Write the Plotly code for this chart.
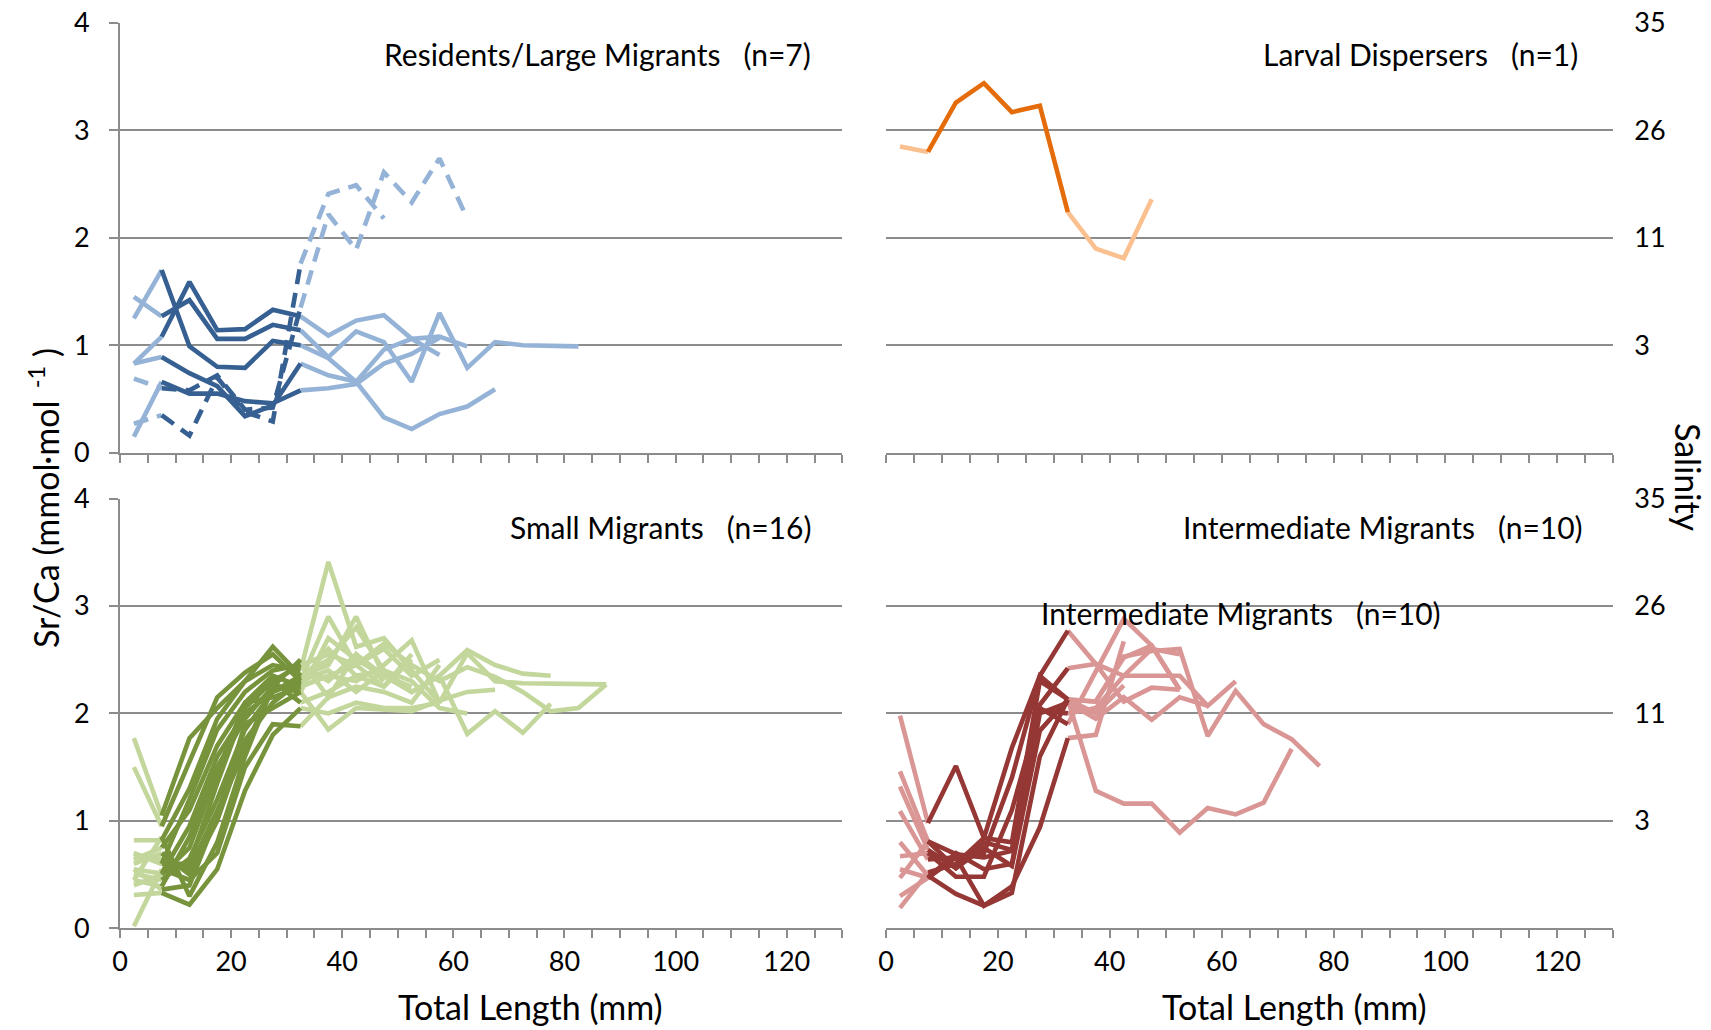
import plotly.graph_objects as go

# ---------------- data ----------------
LENGTH_MM = [2.5, 7.5, 12.5, 17.5, 22.5, 27.5, 32.5, 37.5, 42.5, 47.5,
             52.5, 57.5, 62.5, 67.5, 72.5, 77.5, 82.5, 87.5]

# Residents / Large Migrants (n=7): solid and dashed profiles
RES_SOLID = [
    [1.25, 1.70, 0.99, 0.80, 0.79, 1.04, 1.00, 0.88, 0.66, 0.33, 0.22, 0.36, 0.43, 0.59],
    [1.45, 1.27, 1.42, 1.06, 1.06, 1.19, 1.14, 0.89, 1.13, 1.03, 0.66, 1.30, 0.79, 1.03, 1.00, 0.99, 0.99],
    [0.83, 1.08, 1.59, 1.14, 1.15, 1.33, 1.27, 1.09, 1.23, 1.28, 1.06, 1.08, 0.99],
    [0.83, 0.89, 0.74, 0.62, 0.34, 0.44, 0.83, 0.72, 0.66, 0.96, 1.06, 0.91],
    [0.15, 0.66, 0.55, 0.55, 0.48, 0.46, 0.58, 0.60, 0.64, 0.83, 0.92, 1.07],
]
RES_DASHED = [
    [0.69, 0.60, 0.58, 0.72, 0.40, 0.42, 1.35, 2.22, 1.89, 2.61, 2.33, 2.74, 2.18],
    [0.27, 0.35, 0.16, 0.70, 0.38, 0.29, 1.76, 2.41, 2.49, 2.18],
]

# Larval Dispersers (n=1)
LARVAL = [[2.85, 2.80, 3.26, 3.44, 3.17, 3.23, 2.24, 1.90, 1.81, 2.36]]

# Small Migrants (n=16)
SMALL = [
    [1.77, 1.05, 1.77, 2.05, 2.30, 2.45, 2.40, 3.41, 2.62, 2.70, 2.40, 2.10],
    [1.50, 0.95, 1.55, 2.15, 2.38, 2.55, 2.30, 2.90, 2.45, 2.60, 2.35, 2.50],
    [0.82, 0.82, 1.30, 1.95, 2.30, 2.62, 2.35, 2.50, 2.80, 2.40, 2.20, 2.35, 2.59, 2.45, 2.37, 2.35],
    [0.70, 0.60, 1.20, 1.85, 2.20, 2.40, 2.45, 2.55, 2.45, 2.65, 2.45, 2.30, 2.43, 2.34, 2.20, 2.02, 2.05, 2.27],
    [0.64, 0.75, 1.10, 1.70, 2.10, 2.35, 2.25, 2.35, 2.30, 2.45, 2.68, 2.10, 2.56, 2.30, 2.28, 2.28, 2.27, 2.27],
    [0.55, 0.51, 0.95, 1.60, 2.00, 2.20, 2.30, 2.40, 2.20, 2.40, 2.20, 2.35, 1.81, 2.02, 1.82, 2.09],
    [0.45, 0.39, 0.85, 1.50, 1.95, 2.25, 2.20, 1.85, 2.05, 2.03, 2.02, 2.12, 2.20, 2.22],
    [0.31, 0.33, 0.22, 0.55, 1.28, 1.80, 2.05, 2.00, 2.10, 2.05, 2.05, 2.10],
    [0.02, 0.55, 0.45, 0.70, 1.50, 1.90, 1.88, 2.15, 2.25, 2.20, 2.10, 2.45],
    [0.60, 0.70, 0.50, 1.00, 1.75, 2.10, 2.30, 2.60, 2.35, 2.25, 2.50],
    [0.51, 0.45, 0.65, 1.20, 1.85, 2.20, 2.35, 2.45, 2.90, 2.35, 2.20],
    [0.70, 0.60, 0.60, 1.35, 2.05, 2.30, 2.45, 2.30, 2.55, 2.35],
    [0.40, 0.50, 0.75, 1.45, 2.10, 2.15, 2.25, 2.35, 2.45, 2.25, 2.55],
    [0.55, 0.36, 0.40, 1.05, 1.90, 2.05, 2.20, 2.70, 2.50, 2.35, 2.25],
    [0.45, 0.85, 0.30, 0.80, 1.60, 2.25, 2.50, 2.15, 2.55, 2.30],
    [0.65, 0.65, 0.55, 1.10, 1.65, 2.30, 2.10, 2.20, 2.35, 2.40, 2.30, 2.05, 2.00],
]

# Intermediate Migrants (n=10)
INTERMEDIATE = [
    [1.98, 0.98, 1.51, 0.84, 1.68, 2.35, 2.77, 2.46, 2.11, 2.24, 2.22],
    [1.46, 0.81, 0.69, 0.66, 0.72, 2.08, 2.42, 2.46, 2.35, 2.35, 2.35, 2.07, 2.30],
    [1.32, 0.73, 0.56, 0.75, 0.58, 1.84, 2.13, 2.11, 2.52, 2.63, 2.22],
    [1.09, 0.64, 0.66, 0.21, 0.39, 0.94, 1.77, 1.80, 2.67],
    [0.80, 0.49, 0.32, 0.21, 0.33, 1.60, 2.13, 1.28, 1.16, 1.16, 0.89, 1.12, 1.06, 1.17, 1.67],
    [0.55, 0.47, 0.66, 0.70, 1.40, 2.35, 2.13, 2.11, 2.53, 2.58, 2.60, 1.79, 2.21, 1.90, 1.76, 1.51],
    [0.47, 0.81, 0.56, 0.80, 0.73, 2.05, 1.90, 2.40, 2.88, 2.63, 2.22],
    [0.19, 0.52, 0.60, 0.84, 0.80, 2.30, 2.13, 2.00, 2.26],
    [0.67, 0.70, 0.48, 0.48, 1.10, 2.03, 2.00, 2.05, 2.35, 2.60, 2.55],
    [0.30, 0.47, 0.70, 0.55, 0.60, 2.00, 2.10, 1.95, 2.15, 1.94, 2.15, 2.07],
]

SRCA_TICKS = [0, 1, 2, 3, 4]
SALINITY_TICKVALS = [1, 2, 3, 4]
SALINITY_LABELS = ["3", "11", "26", "35"]
X_TICKS = [0, 20, 40, 60, 80, 100, 120]

# ---------------- styling ----------------
FONT = "Lato"
GRID = "#8C8C8C"
LW = 4.6
W, H = 1711, 1030

fig = go.Figure()


def add_group(group, xa, ya, dark, light, dash="solid"):
    # light (outside 7.5-32.5 mm) parts first, dark parts on top
    for vals in group:
        xs = LENGTH_MM[:len(vals)]
        for sx, sy in ((xs[0:2], vals[0:2]), (xs[6:], vals[6:])):
            if len(sx) >= 2:
                fig.add_trace(go.Scatter(
                    x=sx, y=sy, mode="lines", xaxis=xa, yaxis=ya,
                    line=dict(color=light, width=LW, dash=dash),
                    showlegend=False, hoverinfo="skip"))
    for vals in group:
        xs = LENGTH_MM[:len(vals)]
        fig.add_trace(go.Scatter(
            x=xs[1:7], y=vals[1:7], mode="lines", xaxis=xa, yaxis=ya,
            line=dict(color=dark, width=LW, dash=dash),
            showlegend=False, hoverinfo="skip"))


DASH = "15px,9px"
add_group(RES_SOLID, "x", "y", "#376092", "#95B3D7")
add_group(RES_DASHED, "x", "y", "#376092", "#95B3D7", dash=DASH)
add_group(LARVAL, "x2", "y2", "#E46C0A", "#FAC090")
add_group(SMALL, "x3", "y3", "#77933C", "#C3D69B")
add_group(INTERMEDIATE, "x4", "y4", "#953735", "#D99694")

LEFT_X = [120 / W, 842.3 / W]
RIGHT_X = [886 / W, 1613.3 / W]
TOP_Y = [1 - 452.7 / H, 1 - 23 / H]
BOT_Y = [1 - 928.3 / H, 1 - 498.5 / H]

tick_font = dict(family=FONT, size=27, color="black")


def xaxis(domain, anchor, labels):
    return dict(
        domain=domain, anchor=anchor, range=[0, 130], automargin=False,
        showgrid=False, zeroline=False,
        showline=True, linecolor=GRID, linewidth=2,
        tickmode="array", tickvals=X_TICKS,
        ticks="outside", ticklen=8, tickwidth=2, tickcolor=GRID,
        minor=dict(dtick=5, tick0=0, ticks="outside", ticklen=8, tickwidth=2, tickcolor=GRID),
        showticklabels=labels, tickfont=tick_font,
    )


def yleft(domain, anchor):
    return dict(
        domain=domain, anchor=anchor, range=[0, 4], automargin=False,
        tickmode="array", tickvals=SRCA_TICKS,
        showgrid=True, gridcolor=GRID, gridwidth=2, zeroline=False,
        showline=True, linecolor=GRID, linewidth=2,
        ticks="outside", ticklen=9, tickwidth=2, tickcolor=GRID,
        ticklabelstandoff=14, tickfont=tick_font,
    )


def yright(domain, anchor):
    return dict(
        domain=domain, anchor=anchor, range=[0, 4], side="right", automargin=False,
        tickmode="array", tickvals=SALINITY_TICKVALS, ticktext=SALINITY_LABELS,
        showgrid=True, gridcolor=GRID, gridwidth=2, zeroline=False,
        showline=False, ticks="",
        ticklabelstandoff=20, tickfont=tick_font,
    )


fig.update_layout(
    template="none",
    width=W, height=H,
    margin=dict(l=0, r=0, t=0, b=0, pad=0),
    paper_bgcolor="white", plot_bgcolor="white",
    font=dict(family=FONT, color="black"),
    xaxis=xaxis(LEFT_X, "y", False),
    yaxis=yleft(TOP_Y, "x"),
    xaxis2=xaxis(RIGHT_X, "y2", False),
    yaxis2=yright(TOP_Y, "x2"),
    xaxis3=xaxis(LEFT_X, "y3", True),
    yaxis3=yleft(BOT_Y, "x3"),
    xaxis4=xaxis(RIGHT_X, "y4", True),
    yaxis4=yright(BOT_Y, "x4"),
)

ann_font = dict(family=FONT, size=30, color="black")
annots = [
    ("Residents/Large Migrants   (n=7)", 813, 54, "right"),
    ("Larval Dispersers   (n=1)", 1580, 54, "right"),
    ("Small Migrants   (n=16)", 813, 527, "right"),
    ("Intermediate Migrants   (n=10)", 1585, 527, "right"),
    ("Intermediate Migrants   (n=10)", 1443, 613, "right"),
]
for txt, fx, fy, xa in annots:
    fig.add_annotation(text=txt, x=fx / W, y=1 - fy / H, xref="paper", yref="paper",
                       xanchor=xa, yanchor="middle", showarrow=False, font=ann_font)

title_font = dict(family=FONT, size=34, color="black")
fig.add_annotation(text="Sr/Ca (mmol·mol<sup>  -1</sup> )", x=44 / W, y=1 - 498 / H,
                   xref="paper", yref="paper", textangle=-90, showarrow=False,
                   xanchor="center", yanchor="middle", font=title_font)
fig.add_annotation(text="Salinity", x=1689 / W, y=1 - 477 / H,
                   xref="paper", yref="paper", textangle=90, showarrow=False,
                   xanchor="center", yanchor="middle", font=title_font)
fig.add_annotation(text="Total Length (mm)", x=530 / W, y=1 - 1006 / H,
                   xref="paper", yref="paper", showarrow=False,
                   xanchor="center", yanchor="middle", font=title_font)
fig.add_annotation(text="Total Length (mm)", x=1294 / W, y=1 - 1006 / H,
                   xref="paper", yref="paper", showarrow=False,
                   xanchor="center", yanchor="middle", font=title_font)

fig.write_html("out.html", post_script="document.body.style.margin='0px';")
